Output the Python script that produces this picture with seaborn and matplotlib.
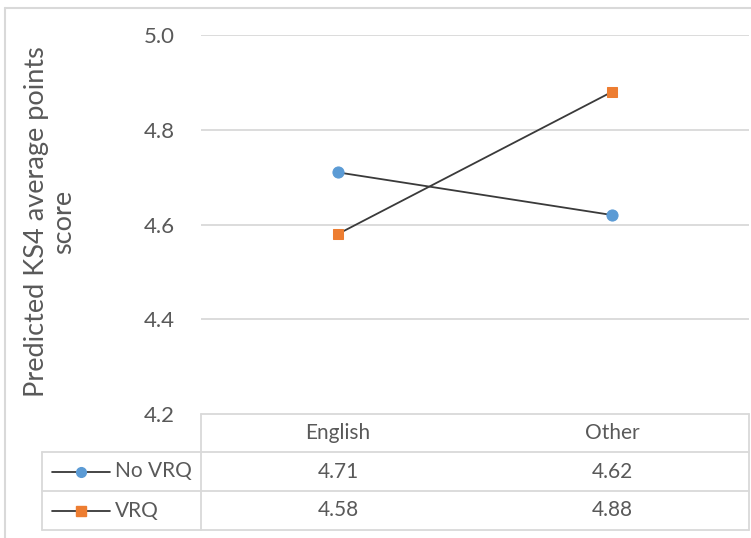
import matplotlib
matplotlib.use("Agg")
import matplotlib.pyplot as plt
import seaborn as sns
import pandas as pd

# Data
categories = ["English", "Other"]
series_names = ["No VRQ", "VRQ"]
no_vrq = [4.71, 4.62]
vrq = [4.58, 4.88]
y_ticks = [4.2, 4.4, 4.6, 4.8, 5.0]
y_label = "Predicted KS4 average points\nscore"

series_values = {"No VRQ": no_vrq, "VRQ": vrq}
series_colors = {"No VRQ": "#5B9BD5", "VRQ": "#ED7D31"}
series_markers = {"No VRQ": "o", "VRQ": "s"}

df = pd.DataFrame(
    [(s, c, v) for s in series_names for c, v in zip(categories, series_values[s])],
    columns=["series", "category", "value"],
)

sns.set_theme(style="white")
plt.rcParams["font.family"] = ["Lato", "DejaVu Sans"]
TEXT = "#595959"
GRID = "#D9D9D9"

W, H = 751, 538
fig = plt.figure(figsize=(W / 100, H / 100), dpi=100)

# plot-area geometry in pixels
px_left, px_right, px_top, px_bottom = 201, 749, 35, 414


def fig_rect(l, r, t, b):
    return [l / W, 1 - b / H, (r - l) / W, (b - t) / H]


# overlay axes in pixel coordinates for the frame, axis title and data table
ov = fig.add_axes([0, 0, 1, 1])
ov.set_xlim(0, W)
ov.set_ylim(H, 0)
ov.axis("off")

ax = fig.add_axes(fig_rect(px_left, px_right, px_top, px_bottom))
ax.set_zorder(2)
ax.patch.set_alpha(0)

for s in series_names:
    sub = df[df.series == s]
    sns.lineplot(
        data=sub, x="category", y="value", ax=ax, color="#3A3A3A", lw=1.3,
        marker=series_markers[s], markersize=8 if s == "No VRQ" else 7.5,
        markerfacecolor=series_colors[s], markeredgecolor=series_colors[s],
        legend=False, zorder=3,
    )

ax.set_xlim(-0.5, len(categories) - 0.5)
ax.set_ylim(y_ticks[0], y_ticks[-1])
ax.set_yticks(y_ticks)
ax.set_yticklabels([f"{t:.1f}" for t in y_ticks], fontsize=16, color=TEXT)
ax.tick_params(axis="y", length=0, pad=19)
ax.set_xticks([])
ax.set_xlabel("")
ax.set_ylabel("")
for y in y_ticks[1:]:
    ax.axhline(y, color=GRID, lw=1.3, zorder=1)
for sp in ax.spines.values():
    sp.set_visible(False)

# axis title
ov.text(50, 222, y_label, rotation=90, ha="center", va="center",
        multialignment="center", fontsize=19.5, color=TEXT, linespacing=1.1)

# outer chart frame
ov.plot([5, 5], [8, H], color=GRID, lw=1.5)
ov.plot([5, W], [8, 8], color=GRID, lw=1.5)

# data table
tbl_left = 42
row_lines = [414, 452, 491, 530]
lw_t = 1.3
ov.plot([px_left, px_right], [row_lines[0], row_lines[0]], color=GRID, lw=lw_t)
for y in row_lines[1:]:
    ov.plot([tbl_left, px_right], [y, y], color=GRID, lw=lw_t)
ov.plot([px_left, px_left], [row_lines[0], row_lines[-1]], color=GRID, lw=lw_t)
ov.plot([px_right, px_right], [row_lines[0], row_lines[-1]], color=GRID, lw=lw_t)
ov.plot([tbl_left, tbl_left], [row_lines[1], row_lines[-1]], color=GRID, lw=lw_t)

col_w = (px_right - px_left) / len(categories)
col_centers = [px_left + (i + 0.5) * col_w for i in range(len(categories))]
header_y = (row_lines[0] + row_lines[1]) / 2
for cx, cat in zip(col_centers, categories):
    ov.text(cx, header_y, cat, ha="center", va="center", fontsize=15, color=TEXT)

for r, s in enumerate(series_names):
    yc = (row_lines[r + 1] + row_lines[r + 2]) / 2
    ov.plot([52, 110], [yc, yc], color="#262626", lw=1.2)
    ov.plot([81], [yc], marker=series_markers[s], ms=7 if s == "No VRQ" else 6.5,
            color=series_colors[s], ls="none")
    ov.text(115, yc, s, ha="left", va="center", fontsize=15, color=TEXT)
    for cx, v in zip(col_centers, series_values[s]):
        ov.text(cx, yc, f"{v:.2f}", ha="center", va="center", fontsize=15, color=TEXT)

fig.savefig("out.png", dpi=100)
